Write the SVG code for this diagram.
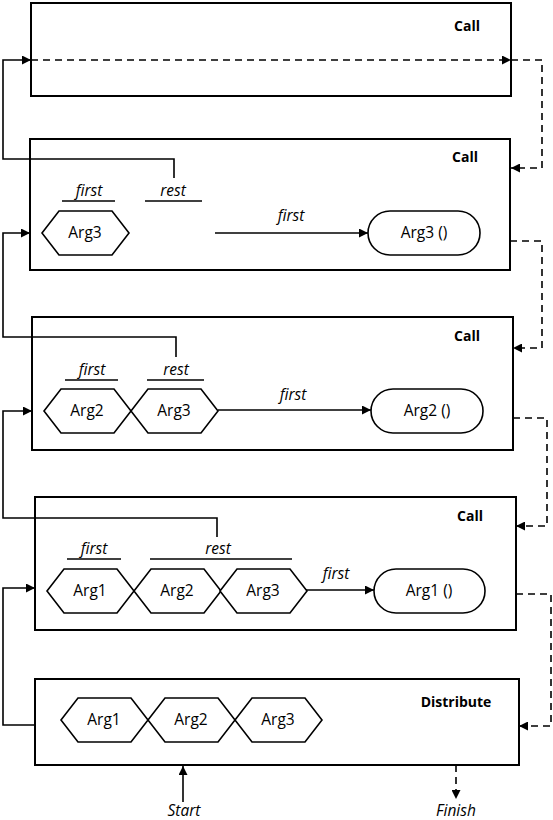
<svg xmlns="http://www.w3.org/2000/svg" xmlns:xlink="http://www.w3.org/1999/xlink" width="553" height="820" viewBox="0 0 553 820">
<style>
.box{fill:#fff;stroke:#000;stroke-width:2}
.hex{fill:#fff;stroke:#000;stroke-width:1.6}
.pill{fill:#fff;stroke:#000;stroke-width:1.6}
.ul{stroke:#000;stroke-width:1.6;fill:none}
.c{fill:none;stroke:#000;stroke-width:1.6}
.d{fill:none;stroke:#000;stroke-width:1.6;stroke-dasharray:7,5}
.t{font-family:"Open Sans","Liberation Sans",Arial,sans-serif;font-size:15.5px;text-anchor:middle;fill:#000}
.ti{font-family:"Open Sans","Liberation Sans",Arial,sans-serif;font-size:15.5px;font-style:italic;text-anchor:middle;fill:#000}
.tb{font-family:"Open Sans","Liberation Sans",Arial,sans-serif;font-size:14px;font-weight:bold;text-anchor:middle;fill:#000}
</style>
<defs>
<polygon id="hx" class="hex" points="0,22 17,0 70,0 87,22 70,44 17,44"/>
<marker id="ah" viewBox="0 0 10 10" refX="10" refY="5" markerWidth="9" markerHeight="9" markerUnits="userSpaceOnUse" orient="auto">
<path d="M0,0 L10,5 L0,10 z" fill="#000"/>
</marker>
</defs>
<rect width="553" height="820" fill="#fff"/>

<g id="call1">
<rect class="box" x="31" y="3" width="480" height="93"/>
<text class="tb" x="467" y="31">Call</text>
</g>

<g id="call2">
<rect class="box" x="30" y="139" width="480" height="131"/>
<text class="tb" x="465" y="162">Call</text>
<text class="ti" x="89" y="196">first</text>
<line class="ul" x1="62" y1="201" x2="115" y2="201"/>
<text class="ti" x="173" y="196">rest</text>
<line class="ul" x1="145" y1="201" x2="202" y2="201"/>
<use xlink:href="#hx" x="42" y="211"/>
<text class="t" x="85" y="238">Arg3</text>
<text class="ti" x="291" y="221">first</text>
<rect class="pill" x="368" y="211" width="112" height="44" rx="22"/>
<text class="t" x="424" y="238">Arg3 ()</text>
</g>

<g id="call3">
<rect class="box" x="32" y="317" width="481" height="133"/>
<text class="tb" x="467" y="341">Call</text>
<text class="ti" x="92" y="375">first</text>
<line class="ul" x1="65" y1="380" x2="118" y2="380"/>
<text class="ti" x="176" y="375">rest</text>
<line class="ul" x1="147" y1="380" x2="204" y2="380"/>
<use xlink:href="#hx" x="44" y="389"/>
<text class="t" x="87" y="416">Arg2</text>
<use xlink:href="#hx" x="131" y="389"/>
<text class="t" x="174" y="416">Arg3</text>
<text class="ti" x="293" y="400">first</text>
<rect class="pill" x="371" y="389" width="112" height="44" rx="22"/>
<text class="t" x="427" y="416">Arg2 ()</text>
</g>

<g id="call4">
<rect class="box" x="35" y="497" width="481" height="133"/>
<text class="tb" x="470" y="521">Call</text>
<text class="ti" x="94" y="554">first</text>
<line class="ul" x1="67" y1="559" x2="121" y2="559"/>
<text class="ti" x="218" y="554">rest</text>
<line class="ul" x1="150" y1="559" x2="292" y2="559"/>
<use xlink:href="#hx" x="47" y="569"/>
<text class="t" x="90" y="596">Arg1</text>
<use xlink:href="#hx" x="134" y="569"/>
<text class="t" x="177" y="596">Arg2</text>
<use xlink:href="#hx" x="220" y="569"/>
<text class="t" x="263" y="596">Arg3</text>
<text class="ti" x="336" y="579">first</text>
<rect class="pill" x="374" y="569" width="111" height="44" rx="22"/>
<text class="t" x="429" y="596">Arg1 ()</text>
</g>

<g id="distribute">
<rect class="box" x="35" y="679" width="484" height="86"/>
<text class="tb" x="456" y="707">Distribute</text>
<use xlink:href="#hx" x="61" y="698"/>
<text class="t" x="104" y="725">Arg1</text>
<use xlink:href="#hx" x="148" y="698"/>
<text class="t" x="191" y="725">Arg2</text>
<use xlink:href="#hx" x="235" y="698"/>
<text class="t" x="278" y="725">Arg3</text>
</g>

<g id="connectors">
<path class="c" d="M174,178 V159 H3 V60 H31" marker-end="url(#ah)"/>
<path class="c" d="M176,357 V337 H3 V233 H30" marker-end="url(#ah)"/>
<path class="c" d="M217,537 V518 H3 V411 H32" marker-end="url(#ah)"/>
<path class="c" d="M35,725 H3 V588 H35" marker-end="url(#ah)"/>
<path class="c" d="M215,233 H368" marker-end="url(#ah)"/>
<path class="c" d="M218,410 H371" marker-end="url(#ah)"/>
<path class="c" d="M306,590 H374" marker-end="url(#ah)"/>
<path class="c" d="M183,802 V766" marker-end="url(#ah)"/>
<path class="d" d="M31,60 H511" marker-end="url(#ah)"/>
<path class="d" d="M511,60 H542 V168 H511" marker-end="url(#ah)"/>
<path class="d" d="M510,241 H542 V348 H513" marker-end="url(#ah)"/>
<path class="d" d="M513,418 H547 V526 H516" marker-end="url(#ah)"/>
<path class="d" d="M516,594 H551 V726 H519" marker-end="url(#ah)"/>
<path class="d" d="M456,765 V799" marker-end="url(#ah)"/>
<text class="ti" x="184" y="816">Start</text>
<text class="ti" x="456" y="816">Finish</text>
</g>
</svg>
